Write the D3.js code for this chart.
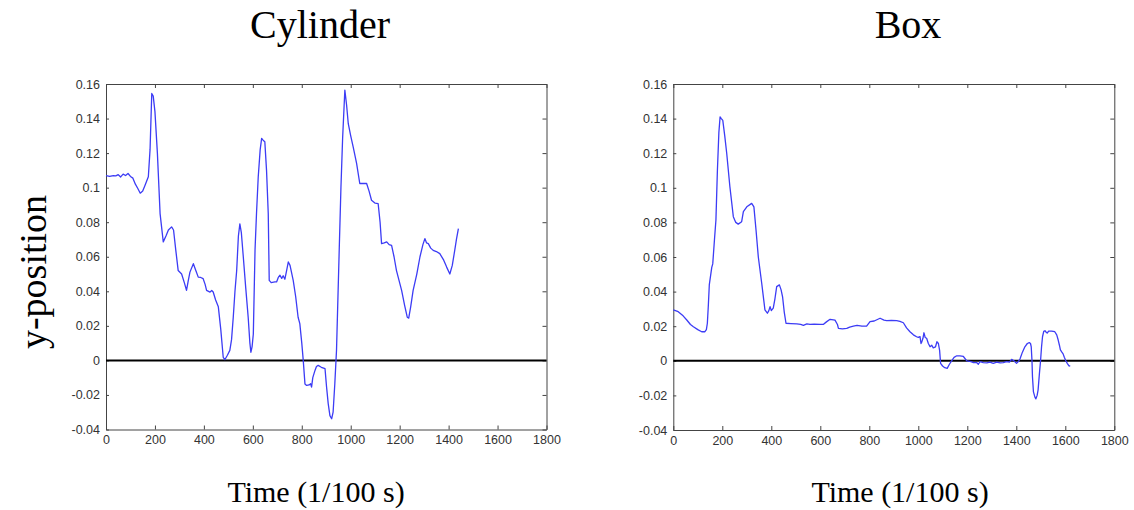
<!DOCTYPE html>
<html lang="en">
<head>
<meta charset="UTF-8">
<title>Cylinder / Box y-position</title>
<script src="https://d3js.org/d3.v7.min.js"></script>
<style>
  body { margin: 0; background: #fff; }
  svg { display: block; }
  .tick text { font-family: Arial, "Liberation Sans", sans-serif; font-size: 12.5px; fill: #333; }
  .tick line, .domain { stroke: #444; }
  .title, .xlab, .ylab { font-family: "Liberation Serif", "DejaVu Serif", serif; fill: #000; }
</style>
</head>
<body>
<svg width="1134" height="510"></svg>
<script>
const xTicks = [0, 200, 400, 600, 800, 1000, 1200, 1400, 1600, 1800];
const yTicks = [-0.04, -0.02, 0, 0.02, 0.04, 0.06, 0.08, 0.1, 0.12, 0.14, 0.16];

// Cylinder: time (1/100 s) and y-position
const cylT = [0,15,30,40,50,60,70,80,90,100,110,120,130,140,150,160,173,180,187,193,200,210,221,234,245,255,268,276,285,295,309,320,329,336,343,357,367,377,387,397,405,411,425,432,438,448,459,469,479,486,496,506,513,520,527,534,541,547,553,561,571,581,588,592,597,602,609,615,622,630,636,642,649,656,663,667,675,690,697,704,711,718,724,731,738,745,752,765,775,785,792,800,806,813,820,830,836,840,845,854,860,867,880,895,901,908,915,922,928,935,942,953,960,967,976,983,990,1000,1010,1024,1037,1050,1065,1075,1085,1100,1112,1120,1126,1137,1147,1157,1167,1177,1187,1208,1220,1231,1237,1245,1255,1270,1283,1295,1303,1310,1317,1327,1337,1350,1364,1380,1392,1405,1415,1425,1432,1440];
const cylY = [0.107,0.1065,0.107,0.1068,0.1075,0.1062,0.1078,0.107,0.1082,0.1065,0.1055,0.102,0.0995,0.0968,0.098,0.1015,0.1063,0.122,0.1545,0.153,0.144,0.12,0.085,0.0686,0.072,0.0755,0.0773,0.0755,0.064,0.052,0.05,0.045,0.0406,0.046,0.0511,0.056,0.052,0.0482,0.048,0.0473,0.044,0.0405,0.0395,0.0405,0.0396,0.035,0.031,0.018,0.0018,0.0005,0.003,0.0058,0.012,0.025,0.04,0.052,0.072,0.079,0.074,0.06,0.042,0.025,0.01,0.0047,0.008,0.0153,0.064,0.085,0.106,0.122,0.1285,0.1275,0.1266,0.11,0.085,0.0463,0.045,0.0455,0.0454,0.048,0.0493,0.0475,0.049,0.047,0.052,0.057,0.055,0.0463,0.037,0.025,0.0213,0.01,0,-0.0136,-0.0145,-0.0142,-0.0135,-0.0155,-0.01,-0.0058,-0.0035,-0.0029,-0.004,-0.0048,-0.015,-0.025,-0.032,-0.0338,-0.03,-0.0135,0.006,0.064,0.1,0.129,0.1565,0.148,0.137,0.13,0.1236,0.114,0.1024,0.1025,0.1024,0.098,0.0927,0.091,0.0908,0.08,0.0676,0.068,0.0686,0.067,0.0666,0.06,0.052,0.0405,0.032,0.025,0.0245,0.031,0.0405,0.05,0.06,0.067,0.0705,0.068,0.0676,0.065,0.0637,0.063,0.0618,0.058,0.054,0.05,0.055,0.0637,0.07,0.0763];

// Box: time (1/100 s) and y-position
const boxT = [0,20,40,55,70,82,100,116,129,135,139,143,147,157,161,168,174,180,186,191,196,202,210,218,231,245,255,265,279,286,300,320,329,338,347,361,374,384,390,395,400,408,415,422,433,440,446,453,460,480,504,520,531,545,558,575,599,612,625,640,660,670,674,690,708,720,735,750,770,789,803,820,844,860,871,890,912,925,939,952,966,980,993,1000,1007,1011,1014,1019,1023,1028,1034,1041,1048,1055,1061,1070,1076,1082,1087,1091,1099,1108,1118,1127,1136,1146,1157,1170,1184,1198,1215,1225,1238,1245,1252,1265,1280,1292,1306,1320,1334,1347,1360,1372,1381,1390,1401,1408,1415,1425,1435,1445,1453,1458,1461,1464,1466,1470,1476,1480,1485,1489,1494,1499,1503,1507,1512,1517,1522,1526,1532,1544,1557,1565,1571,1576,1580,1586,1591,1596,1602,1608,1615,1620];
const boxY = [0.0294,0.0284,0.026,0.0236,0.021,0.0197,0.018,0.0168,0.0168,0.018,0.0217,0.032,0.044,0.054,0.056,0.07,0.0814,0.11,0.132,0.141,0.14,0.139,0.13,0.12,0.1006,0.0833,0.08,0.079,0.0804,0.0862,0.089,0.091,0.089,0.075,0.06,0.0447,0.0294,0.0275,0.029,0.0313,0.029,0.0304,0.036,0.0429,0.0439,0.041,0.037,0.028,0.0217,0.0215,0.0213,0.021,0.0205,0.0213,0.021,0.0212,0.021,0.021,0.0225,0.024,0.0235,0.021,0.0187,0.0185,0.0187,0.0195,0.02,0.0205,0.02,0.02,0.0226,0.023,0.0246,0.0235,0.0232,0.0233,0.0232,0.0228,0.022,0.019,0.0168,0.015,0.0139,0.0135,0.014,0.01,0.0108,0.013,0.0162,0.0135,0.013,0.01,0.0081,0.009,0.0075,0.008,0.011,0.01,0.006,-0.0015,-0.003,-0.004,-0.0044,-0.002,0,0.002,0.0029,0.0028,0.0025,0,-0.0005,-0.001,-0.001,-0.002,-0.0005,-0.001,-0.0012,-0.0008,-0.0015,-0.0008,-0.0012,-0.001,-0.0005,-0.0008,0.0008,0,-0.0015,-0.0005,0.001,0.005,0.0081,0.01,0.0105,0.01,0.008,0,-0.0092,-0.018,-0.021,-0.022,-0.02,-0.0168,-0.008,0,0.008,0.0139,0.017,0.0174,0.0165,0.016,0.0172,0.0172,0.0168,0.015,0.012,0.009,0.0063,0.005,0.004,0.002,0,-0.0015,-0.0029,-0.003];

const panels = [
  { title: "Cylinder", t: cylT, y: cylY, left: 106, right: 546.5, top: 84, bottom: 429.5, titleX: 320, labX: 316 },
  { title: "Box", t: boxT, y: boxY, left: 673.3, right: 1114.3, top: 84, bottom: 430, titleX: 908, labX: 900 }
];

const svg = d3.select("svg");

panels.forEach(p => {
  const x = d3.scaleLinear().domain([0, 1800]).range([p.left, p.right]);
  const y = d3.scaleLinear().domain([-0.04, 0.16]).range([p.bottom, p.top]);
  const g = svg.append("g");

  g.append("g")
    .attr("transform", `translate(0,${p.bottom})`)
    .call(d3.axisBottom(x).tickValues(xTicks).tickSize(-4).tickSizeOuter(0).tickPadding(6).tickFormat(d3.format("d")));
  g.append("g")
    .attr("transform", `translate(0,${p.top})`)
    .call(d3.axisTop(x).tickValues(xTicks).tickSize(-4).tickSizeOuter(0).tickFormat(""));
  g.append("g")
    .attr("transform", `translate(${p.left},0)`)
    .call(d3.axisLeft(y).tickValues(yTicks).tickSize(-3).tickSizeOuter(0).tickPadding(6).tickFormat(d => String(d)));
  g.append("g")
    .attr("transform", `translate(${p.right},0)`)
    .call(d3.axisRight(y).tickValues(yTicks).tickSize(-4).tickSizeOuter(0).tickFormat(""));

  g.selectAll(".tick text").attr("font-family", null).attr("font-size", null);

  // zero line
  g.append("line")
    .attr("x1", p.left).attr("x2", p.right)
    .attr("y1", y(0)).attr("y2", y(0))
    .attr("stroke", "#000").attr("stroke-width", 2);

  const pts = p.t.map((t, i) => [t, p.y[i]]);
  g.append("path")
    .datum(pts)
    .attr("fill", "none")
    .attr("stroke", "#3c3cf5")
    .attr("stroke-width", 1.3)
    .attr("stroke-linejoin", "round")
    .attr("d", d3.line().x(d => x(d[0])).y(d => y(d[1])));

  g.append("text").attr("class", "title")
    .attr("x", p.titleX).attr("y", 38)
    .attr("text-anchor", "middle").attr("font-size", 40)
    .text(p.title);
  g.append("text").attr("class", "xlab")
    .attr("x", p.labX).attr("y", 502)
    .attr("text-anchor", "middle").attr("font-size", 30)
    .text("Time (1/100 s)");
});

svg.append("text").attr("class", "ylab")
  .attr("transform", "translate(46,272) rotate(-90)")
  .attr("text-anchor", "middle").attr("font-size", 38)
  .text("y-position");
</script>
</body>
</html>
